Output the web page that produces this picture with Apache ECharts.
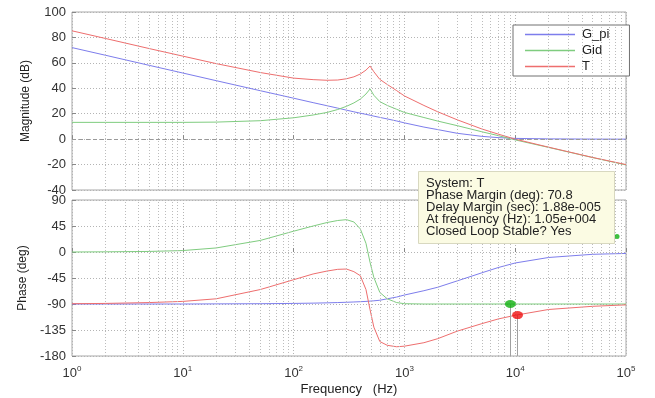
<!DOCTYPE html>
<html>
<head>
<meta charset="utf-8">
<script src="https://cdn.jsdelivr.net/npm/echarts@6/dist/echarts.min.js"></script>
<style>
  html, body { margin: 0; padding: 0; background: #fff; }
  #bode_box { width: 655px; height: 398px; }
</style>
</head>
<body>
<div id="bode_box"></div>
<script>
// frequency points (Hz)
var freq = [1, 2, 5, 10, 20, 50, 100, 150, 200, 250, 300, 350, 400, 450, 490, 530, 600, 700, 850,
  1000, 1500, 2000, 3000, 5000, 7000, 10000, 20000, 50000, 100000];

// magnitude (dB)
var magGpi = [72, 66, 58, 52, 46, 38.1, 32.2, 28.7, 26.3, 24.4, 22.8, 21.5, 20.4, 19.5, 18.8, 18.1, 17.1, 15.9, 14.3,
  12.8, 9.5, 7.5, 4.6, 2.2, 1.2, 0.6, 0.2, 0.05, 0];
var magGid = [13.2, 13.2, 13.2, 13.2, 13.4, 14.5, 16.8, 19, 21, 23.3, 25.8, 28.5, 31.5, 35.5, 39.5, 34.5, 29.5, 26.5, 23.5,
  21, 17, 14.2, 10.6, 5.8, 2.8, -0.6, -6.5, -14.5, -20.3];
var magT = [85.2, 79.2, 71.2, 65.3, 59.4, 52.4, 48, 46.8, 46.3, 46.5, 47.5, 49, 51.2, 54.3, 57.5, 53, 47, 43, 38.2,
  34, 26.5, 21.5, 15.2, 8, 4, 0, -6.3, -14.4, -20];

// phase (deg)
var phGpi = [-90, -90, -90, -90, -89.8, -89.5, -89, -88.5, -88, -87.5, -87, -86.5, -86, -85.5, -85, -84.5, -83.5, -81, -78,
  -74.5, -67, -61, -50, -36, -27, -19, -9.5, -4, -2.5];
var phGid = [0, 0.3, 1, 2.5, 7, 20, 36, 45, 51, 54.5, 56, 52, 40, 15, -18, -44, -70, -81, -87.5,
  -89.5, -90, -90, -90, -90, -90, -90, -90, -90, -90];
var phT = [-89.5, -89, -87.5, -85.5, -81, -65, -48, -38, -33, -30, -29.5, -34, -41, -65, -100, -130, -155, -161.5, -164,
  -163, -157, -150, -137, -124, -116, -109.5, -99.5, -94, -91.5];

// tick labels
var magTicks = [-40, -20, 0, 20, 40, 60, 80, 100];
var phTicks = [-180, -135, -90, -45, 0, 45, 90];

// data tip markers
var tipGid = [9040, -90];
var tipT = [10500, -109.2];
var tipSmall = [83000, 27];
var tipText = [
  'System: T',
  'Phase Margin (deg): 70.8',
  'Delay Margin (sec): 1.88e-005',
  'At frequency (Hz): 1.05e+004',
  'Closed Loop Stable? Yes'
];

var FONT = 'Liberation Sans, Arial, sans-serif';
var colBlue = '#7d7dec';
var colGreen = '#7fcc7f';
var colRed = '#ee6e6e';

function pairs(ys) {
  return freq.map(function (f, i) { return [f, ys[i]]; });
}

// minor log grid lines (2..9 of each decade)
var minorLines = [];
for (var d = 1; d < 100000; d *= 10) {
  for (var k = 2; k <= 9; k++) minorLines.push({ xAxis: k * d });
}

var gridLine = { show: true, lineStyle: { color: '#b4b4b4', type: [1, 2], width: 1 } };

function xAxisCfg(idx, showLabel) {
  return {
    type: 'log', logBase: 10, gridIndex: idx, min: 1, max: 100000,
    axisLine: { show: false },
    axisTick: { show: true, inside: true, length: 4, lineStyle: { color: '#888' } },
    splitLine: gridLine,
    axisLabel: {
      show: showLabel, margin: 9, fontFamily: FONT, color: '#333',
      formatter: function (v) { return '{b|10}{s|' + Math.round(Math.log10(v)) + '}'; },
      rich: {
        b: { fontSize: 13, fontFamily: FONT, color: '#333', lineHeight: 16 },
        s: { fontSize: 8, fontFamily: FONT, color: '#333', verticalAlign: 'top', lineHeight: 10 }
      }
    },
    name: showLabel ? 'Frequency   (Hz)' : '',
    nameLocation: 'middle', nameGap: 27,
    nameTextStyle: { fontFamily: FONT, fontSize: 13, color: '#222' }
  };
}

function yAxisCfg(idx, ticks, name) {
  return {
    type: 'value', gridIndex: idx,
    min: ticks[0], max: ticks[ticks.length - 1], interval: ticks[1] - ticks[0],
    axisLine: { show: false },
    axisTick: { show: true, inside: true, length: 4, lineStyle: { color: '#888' } },
    splitLine: gridLine,
    axisLabel: { fontFamily: FONT, fontSize: 13, color: '#333', margin: 6 },
    name: name, nameLocation: 'middle', nameGap: 40, nameRotate: 90,
    nameTextStyle: { fontFamily: FONT, fontSize: 12, color: '#222' }
  };
}

function lineSeries(name, color, data, gi, extra) {
  var s = {
    name: name, type: 'line', xAxisIndex: gi, yAxisIndex: gi,
    data: pairs(data), symbol: 'none', smooth: false,
    lineStyle: { color: color, width: 1 }, itemStyle: { color: color },
    animation: false, z: 3
  };
  for (var key in extra) s[key] = extra[key];
  return s;
}

var minorMark = {
  silent: true, symbol: 'none', label: { show: false },
  lineStyle: { color: '#bcbcbc', type: [1, 2], width: 1 },
  data: minorLines
};

var myChart = echarts.init(document.getElementById('bode_box'));

var option = {
  backgroundColor: '#fff',
  animation: false,
  grid: [
    { left: 72, right: 29, top: 12, height: 178, show: true, borderColor: '#a8a8a8', borderWidth: 1, backgroundColor: 'transparent' },
    { left: 72, right: 29, top: 200, height: 156, show: true, borderColor: '#a8a8a8', borderWidth: 1, backgroundColor: 'transparent' }
  ],
  xAxis: [xAxisCfg(0, false), xAxisCfg(1, true)],
  yAxis: [yAxisCfg(0, magTicks, 'Magnitude (dB)'), yAxisCfg(1, phTicks, 'Phase (deg)')],
  legend: {
    data: ['G_pi', 'Gid', 'T'],
    orient: 'vertical', left: 513, top: 25,
    width: 108, padding: [3, 20, 3, 12], itemGap: 3,
    itemWidth: 50, itemHeight: 1.5, icon: 'rect',
    backgroundColor: '#fff', borderColor: '#707070', borderWidth: 1,
    textStyle: { fontFamily: FONT, fontSize: 13, color: '#222', padding: [0, 0, 0, 2] }
  },
  title: {
    text: tipText.join('\n'),
    left: 418, top: 172,
    padding: [5, 14, 6, 8],
    backgroundColor: '#fbfbe3', borderColor: '#d8d8c0', borderWidth: 1,
    textStyle: { fontFamily: FONT, fontSize: 13, fontWeight: 'normal', color: '#222', lineHeight: 12 }
  },
  series: [
    lineSeries('G_pi', colBlue, magGpi, 0, {
      markLine: {
        silent: true, symbol: 'none', label: { show: false },
        lineStyle: { color: '#999', type: [4, 3], width: 1 },
        data: [{ yAxis: 0 }]
      }
    }),
    lineSeries('Gid', colGreen, magGid, 0, { markLine: minorMark }),
    lineSeries('T', colRed, magT, 0),
    lineSeries('G_pi', colBlue, phGpi, 1, { markLine: minorMark }),
    lineSeries('Gid', colGreen, phGid, 1, {
      markLine: {
        silent: true, symbol: 'none', label: { show: false },
        lineStyle: { color: '#a0a0a0', type: 'solid', width: 1 },
        data: [
          [{ coord: tipGid }, { coord: [tipGid[0], -180] }],
          [{ coord: tipT }, { coord: [tipT[0], -180] }]
        ]
      }
    }),
    lineSeries('T', colRed, phT, 1),
    // datatip dots
    {
      type: 'scatter', xAxisIndex: 1, yAxisIndex: 1, z: 5, animation: false,
      data: [
        { value: tipGid, symbolSize: [11, 8], itemStyle: { color: '#10b010' } },
        { value: tipT, symbolSize: [11, 8], itemStyle: { color: '#ee1111' } },
        { value: tipSmall, symbolSize: 5, itemStyle: { color: '#10b010' } }
      ]
    }
  ]
};

myChart.setOption(option);
</script>
</body>
</html>
